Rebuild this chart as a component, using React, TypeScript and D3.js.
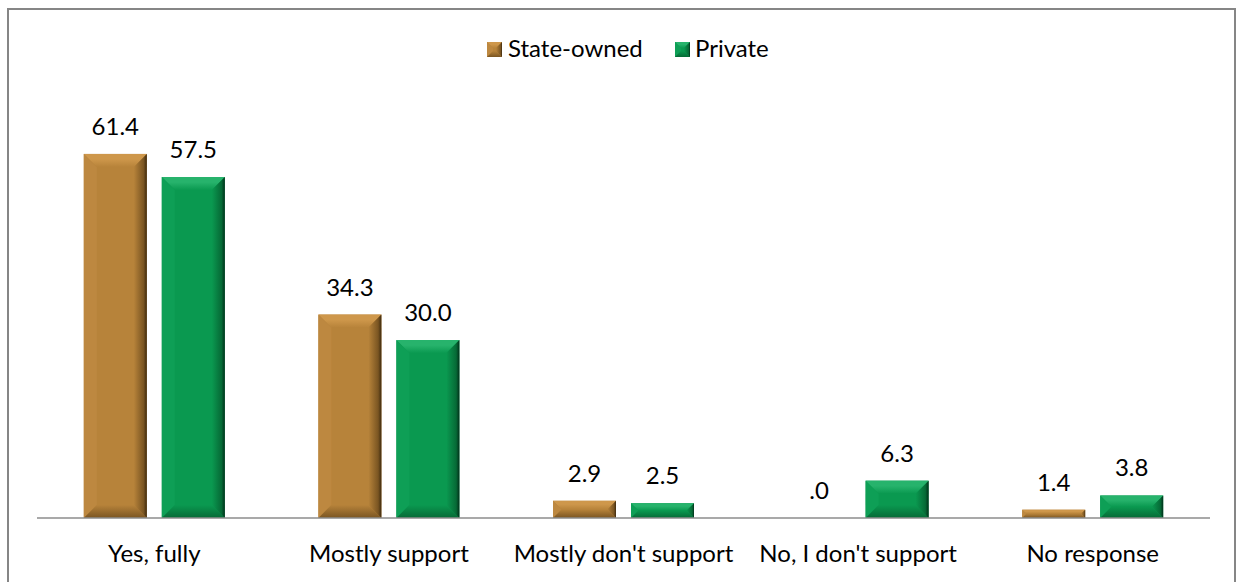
import React from "react";
import * as d3 from "d3";

const categories = ["Yes, fully", "Mostly support", "Mostly don't support", "No, I don't support", "No response"];
const seriesNames = ["State-owned", "Private"];
const stateOwned = [61.4, 34.3, 2.9, 0.0, 1.4];
const privateVals = [57.5, 30.0, 2.5, 6.3, 3.8];
const labelsState = ["61.4", "34.3", "2.9", ".0", "1.4"];
const labelsPrivate = ["57.5", "30.0", "2.5", "6.3", "3.8"];

const W = 1241;
const H = 582;
const FONT = "Lato, 'Open Sans', sans-serif";

const palettes = [
  { id: "s", main: "#B7833A", top: "#CE974B", left: "#BD8840", dark: "#3E2A0E", bottom: "#7A5522" },
  { id: "p", main: "#0A9950", top: "#27B36C", left: "#0E9F56", dark: "#01301A", bottom: "#066A36" },
];

function BevelBar({ x, y, w, h, p, bev = 13 }: { x: number; y: number; w: number; h: number; p: any; bev?: number }) {
  if (h <= 0) return null;
  const b = Math.min(bev, h / 2, w / 2);
  const x0 = x, x1 = x + w, y0 = y, y1 = y + h;
  const pts = (a: number[][]) => a.map((q) => q.join(",")).join(" ");
  return (
    <g>
      <rect x={x0} y={y0} width={w} height={h} fill={p.main} />
      <polygon points={pts([[x0, y0], [x1, y0], [x1 - b, y0 + b], [x0 + b, y0 + b]])} fill={`url(#top-${p.id})`} />
      <polygon points={pts([[x0, y0], [x0 + b, y0 + b], [x0 + b, y1 - b], [x0, y1]])} fill={p.left} />
      <polygon points={pts([[x0, y1], [x1, y1], [x1 - b, y1 - b], [x0 + b, y1 - b]])} fill={`url(#bot-${p.id})`} />
      <polygon points={pts([[x1, y0], [x1, y1], [x1 - b, y1 - b], [x1 - b, y0 + b]])} fill={`url(#right-${p.id})`} />
    </g>
  );
}

export default function App() {
  const axisY = 518;
  const x0 = d3.scaleBand<string>().domain(categories).range([37, 1210]).paddingInner(0).paddingOuter(0);
  const y = d3.scaleLinear().domain([0, 70]).range([axisY, axisY - 70 * 5.93]);
  const barW = 63;
  const gap = 15;
  const series = [stateOwned, privateVals];
  const labels = [labelsState, labelsPrivate];

  return (
    <svg width={W} height={H} style={{ position: "absolute", left: 0, top: 0, background: "#fff" }} fontFamily={FONT}>
      <defs>
        {palettes.map((p) => (
          <React.Fragment key={p.id}>
            <linearGradient id={`right-${p.id}`} x1="0" y1="0" x2="1" y2="0">
              <stop offset="0" stopColor={p.main} />
              <stop offset="0.75" stopColor={p.bottom} />
              <stop offset="1" stopColor={p.dark} />
            </linearGradient>
            <linearGradient id={`top-${p.id}`} x1="0" y1="0" x2="0" y2="1">
              <stop offset="0" stopColor={p.top} />
              <stop offset="0.4" stopColor={p.top} />
              <stop offset="1" stopColor={p.main} />
            </linearGradient>
            <linearGradient id={`bot-${p.id}`} x1="0" y1="0" x2="0" y2="1">
              <stop offset="0" stopColor={p.main} />
              <stop offset="1" stopColor={p.bottom} />
            </linearGradient>
          </React.Fragment>
        ))}
      </defs>
      <rect x={8} y={9} width={1227} height={H} fill="#fff" stroke="#868686" strokeWidth={2} />
      {/* legend */}
      <g fontSize={24} fill="#000">
        {seriesNames.map((s, i) => {
          const lx = i === 0 ? 487 : 675;
          const tx = i === 0 ? 508 : 695;
          return (
            <g key={s}>
              <BevelBar x={lx} y={42} w={15} h={15} p={palettes[i]} bev={6} />
              <text x={tx} y={57}>{s}</text>
            </g>
          );
        })}
      </g>
      {/* bars */}
      {categories.map((c, ci) => {
        const cx = (x0(c) as number) + x0.bandwidth() / 2;
        return (
          <g key={c}>
            {series.map((vals, si) => {
              const bx = si === 0 ? cx - gap / 2 - barW : cx + gap / 2;
              const top = y(vals[ci]);
              return (
                <g key={si}>
                  <BevelBar x={bx} y={top} w={barW} h={axisY - top} p={palettes[si]} />
                  <text x={bx + barW / 2} y={top - 19} textAnchor="middle" fontSize={24} fill="#000">
                    {labels[si][ci]}
                  </text>
                </g>
              );
            })}
            <text x={cx} y={562} textAnchor="middle" fontSize={24} fill="#000">{c}</text>
          </g>
        );
      })}
      <line x1={37} x2={1210} y1={axisY} y2={axisY} stroke="#8C8C8C" strokeWidth={1.5} />
    </svg>
  );
}
